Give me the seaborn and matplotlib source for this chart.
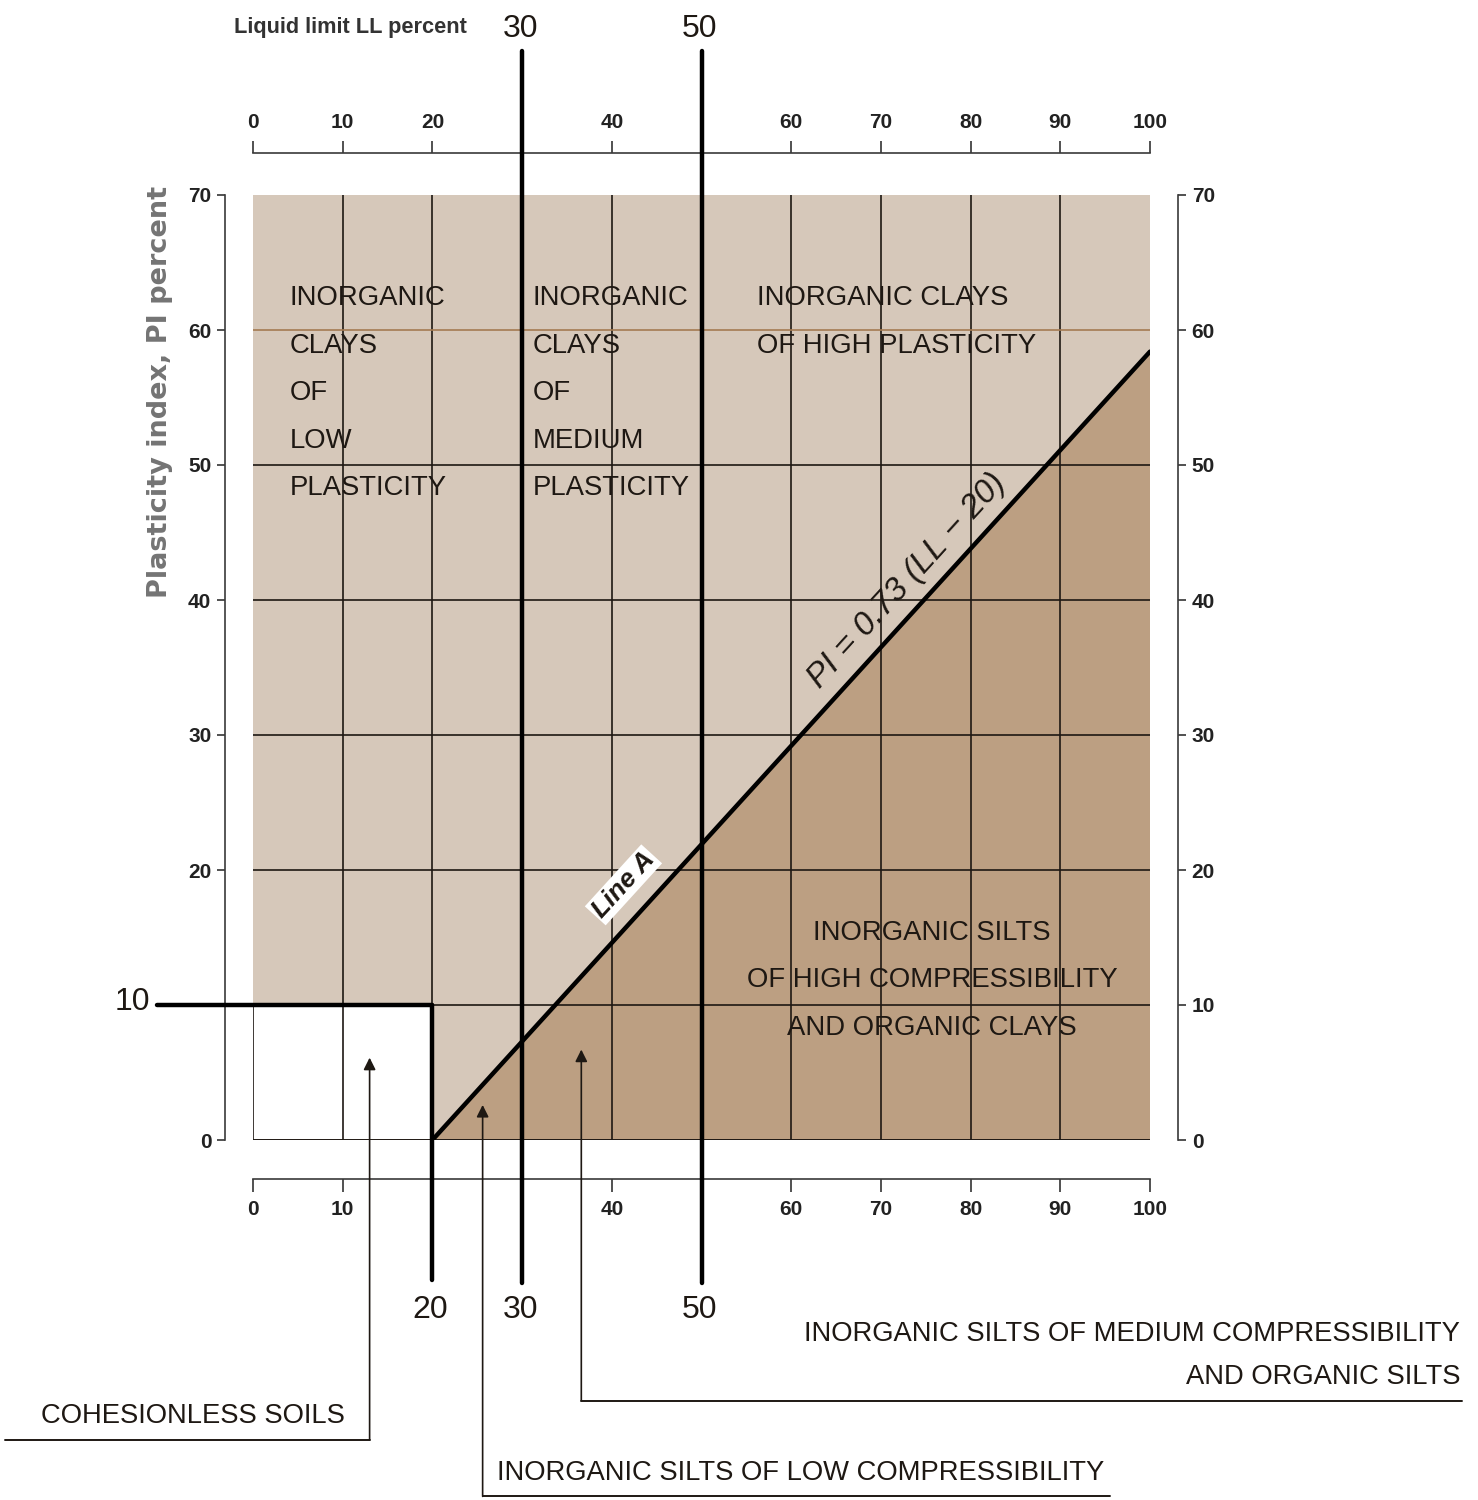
import numpy as np
import pandas as pd
import seaborn as sns
import matplotlib.pyplot as plt

# Plasticity chart (Casagrande)
ll_ticks = [0, 10, 20, 40, 60, 70, 80, 90, 100]
pi_ticks = [0, 10, 20, 30, 40, 50, 60, 70]
grid_ll = [10, 20, 40, 60, 70, 80, 90]
grid_pi = [10, 20, 30, 40, 50, 60]
line_a_ll = [20, 100]
line_a_pi = [0, 58.4]
bound_ll = [20, 30, 50]
bound_pi = 10

sns.set_theme(style='white')
plt.rcParams['font.family'] = ['Liberation Sans', 'DejaVu Sans']

fig = plt.figure(figsize=(14.78, 15), dpi=100)
ax = fig.add_axes([253 / 1478, 360 / 1500, 897 / 1478, 945 / 1500])
ax.set_xlim(0, 100)
ax.set_ylim(0, 70)
ax.set_facecolor('none')

light = '#d6c8ba'
dark = '#bc9f82'
ink = '#1e1813'

# shaded zones
upper = pd.DataFrame({'ll': [0, 0, 100, line_a_ll[1], line_a_ll[0], bound_ll[0]],
                      'pi': [bound_pi, 70, 70, line_a_pi[1], line_a_pi[0], bound_pi]})
lower = pd.DataFrame({'ll': [line_a_ll[0], line_a_ll[1], line_a_ll[1]],
                      'pi': [line_a_pi[0], line_a_pi[1], 0]})
ax.fill(upper['ll'], upper['pi'], color=light, zorder=0, lw=0)
ax.fill(lower['ll'], lower['pi'], color=dark, zorder=0, lw=0)

# grid
ax.vlines(grid_ll, 0, 70, color=ink, lw=1.2, zorder=1)
for p in grid_pi:
    ax.hlines(p, 0, 100, color='#a47b52' if p == 60 else ink, lw=1.2, zorder=1)
ax.hlines(0, 0, 100, color=ink, lw=1.4, zorder=1)
ax.vlines(0, 0, bound_pi, color=ink, lw=1.2, zorder=1)

# Line A
sns.lineplot(x=line_a_ll, y=line_a_pi, color='black', lw=3.2, ax=ax, zorder=3)

# heavy boundaries
thick = dict(color='black', lw=3.2, zorder=3, clip_on=False)
ax.plot([-10.7, bound_ll[0]], [bound_pi, bound_pi], **thick)
ax.plot([bound_ll[0], bound_ll[0]], [bound_pi, -10.4], **thick)
for b in bound_ll[1:]:
    ax.plot([b, b], [80.7, -10.6], **thick)

big = dict(fontsize=23, color=ink, ha='center', va='center')
for b in bound_ll[1:]:
    ax.text(b - 0.2, 82.3, str(b), **big)
for b in bound_ll:
    ax.text(b - 0.2, -12.6, str(b), **big)
ax.text(-13.5, bound_pi + 0.2, str(bound_pi), **big)

# axes / spines
for side, off in [('left', 20), ('right', 20), ('top', 30), ('bottom', 28)]:
    ax.spines[side].set_visible(True)
    ax.spines[side].set_position(('outward', off))
    ax.spines[side].set_color('#3a3a3a')
    ax.spines[side].set_linewidth(1.2)
ax.set_xticks(ll_ticks)
ax.set_yticks(pi_ticks)
ax.tick_params(axis='x', top=True, labeltop=True, bottom=True, labelbottom=True,
               length=9, width=1.1, pad=6, labelsize=15, colors='#222222', direction='out')
ax.tick_params(axis='y', left=True, right=True, labelright=True,
               length=6, width=1.1, pad=4, labelsize=15, colors='#222222', direction='out')
for lab in ax.get_xticklabels() + ax.get_yticklabels():
    lab.set_fontweight('bold')
# the heavy 20 / 10 boundaries replace these labels on the bottom and left
xt = ax.xaxis.get_major_ticks()[ll_ticks.index(bound_ll[0])]
xt.label1.set_visible(False)
xt.tick1line.set_visible(False)
yt = ax.yaxis.get_major_ticks()[pi_ticks.index(bound_pi)]
yt.label1.set_visible(False)
yt.tick1line.set_visible(False)
ax.grid(False)

ax.text(10.9, 82.4, 'Liquid limit LL percent', fontsize=15.7, fontweight='bold',
        color='#333333', ha='center', va='center', clip_on=False)
ax.text(-10.4, 55.4, 'Plasticity index, PI percent', fontsize=19.5, fontweight='bold',
        color='#747474', rotation=90, ha='center', va='center',
        family=['DejaVu Sans'])

# zone labels
zone = dict(fontsize=19.8, color=ink, va='top', linespacing=2.07, zorder=4)
ax.text(4.1, 63.3, 'INORGANIC\nCLAYS\nOF\nLOW\nPLASTICITY', ha='left', **zone)
ax.text(31.2, 63.3, 'INORGANIC\nCLAYS\nOF\nMEDIUM\nPLASTICITY', ha='left', **zone)
ax.text(56.2, 63.3, 'INORGANIC CLAYS\nOF HIGH PLASTICITY', ha='left', **zone)
ax.text(75.7, 16.3, 'INORGANIC SILTS\nOF HIGH COMPRESSIBILITY\nAND ORGANIC CLAYS',
        ha='center', multialignment='center', **zone)

ang = np.degrees(np.arctan((line_a_pi[1] - line_a_pi[0]) / (line_a_ll[1] - line_a_ll[0])))
ax.text(72.9, 41.4, 'PI = 0.73 (LL \u2212 20)', fontsize=24, style='italic', color=ink,
        rotation=ang, transform_rotates_text=True, rotation_mode='anchor',
        ha='center', va='center', zorder=4)
ax.text(41.3, 18.9, 'Line A', fontsize=19, style='italic', fontweight='bold', color=ink,
        rotation=ang, transform_rotates_text=True, rotation_mode='anchor',
        ha='center', va='center', zorder=4,
        bbox=dict(facecolor='white', edgecolor='none', pad=1.5))

# call-outs below the chart
notes = [
    # x, arrow tip, baseline, line start/end, text, text x, ha
    (13.0, 6.1, -22.2, -27.6, 13.0, 'COHESIONLESS SOILS', -6.7, 'center'),
    (25.6, 2.6, -26.4, 25.6, 95.5, 'INORGANIC SILTS OF LOW COMPRESSIBILITY', 27.2, 'left'),
    (36.6, 6.7, -19.3, 36.6, 134.8,
     'INORGANIC SILTS OF MEDIUM COMPRESSIBILITY\nAND ORGANIC SILTS', 134.6, 'right'),
]
for x, tip, base, x0, x1, txt, tx, ha in notes:
    ax.annotate('', xy=(x, tip), xytext=(x, base), annotation_clip=False,
                arrowprops=dict(arrowstyle='-|>', color=ink, lw=1.2, mutation_scale=18,
                                shrinkA=0, shrinkB=0), zorder=4)
    ax.plot([x0, x1], [base, base], color=ink, lw=1.4, clip_on=False)
    ax.text(tx, base + 0.8, txt, fontsize=19.7, color=ink, ha=ha, va='bottom',
            multialignment=ha, linespacing=1.85, clip_on=False)

plt.savefig('out.png', dpi=100, facecolor='white')
